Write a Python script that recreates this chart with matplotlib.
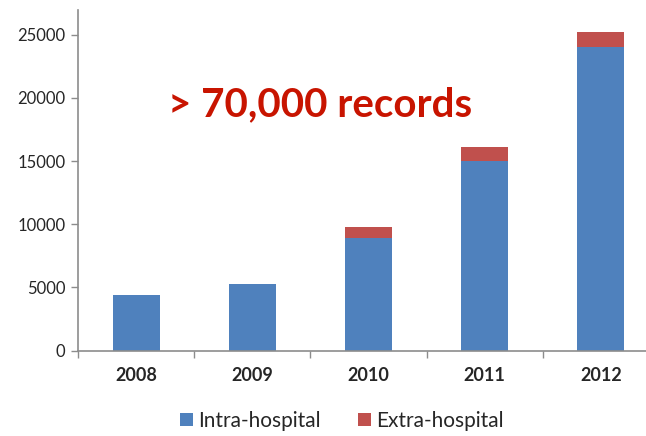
import matplotlib
matplotlib.use("Agg")
import matplotlib.pyplot as plt
import numpy as np

years = ["2008", "2009", "2010", "2011", "2012"]
intra = [4430, 5250, 8940, 15030, 24050]
extra = [0, 0, 870, 1060, 1160]

blue = "#4F81BD"
red = "#C0504D"
axis_grey = "#8C8C8C"

plt.rcParams['font.family'] = ['Lato', 'DejaVu Sans']

fig = plt.figure(figsize=(6.46, 4.36), dpi=100)
ax = fig.add_axes([78/646, 1 - 350.7/436, (659 - 78)/646, (350.7 - 10)/436])

x = np.arange(len(years))
w = 0.405
ax.bar(x, intra, width=w, color=blue, label="Intra-hospital", zorder=2)
ax.bar(x, extra, width=w, bottom=intra, color=red, label="Extra-hospital", zorder=2)

ax.set_xlim(-0.5, 4.5)
ax.set_ylim(0, 26950)
ax.set_yticks([0, 5000, 10000, 15000, 20000, 25000])
ax.set_yticklabels(["0", "5000", "10000", "15000", "20000", "25000"])
ax.set_xticks(x)
ax.set_xticklabels(years, fontweight='bold')
ax.set_xticks(np.arange(-0.5, 5.0, 1.0), minor=True)
ax.tick_params(axis='x', which='major', length=0, pad=12, labelsize=13, labelcolor="#262626")
ax.tick_params(axis='x', which='minor', length=5, width=1, color=axis_grey, direction='out')
ax.tick_params(axis='y', length=5, width=1, color=axis_grey, labelsize=12, labelcolor="#262626", pad=4)

for s in ['top', 'right']:
    ax.spines[s].set_visible(False)
for s in ['left', 'bottom']:
    ax.spines[s].set_color(axis_grey)
    ax.spines[s].set_linewidth(1.2)

fig.text(320/646, 1 - 105/436, "> 70,000 records", color="#C81400", fontsize=29,
         fontweight='bold', ha='center', va='center')

handles, labels = ax.get_legend_handles_labels()
fig.legend(handles, labels, loc='center', bbox_to_anchor=(342/646, 1 - 421/436),
           ncol=2, frameon=False, fontsize=15, handlelength=0.6, handleheight=0.6,
           handletextpad=0.25, columnspacing=1.8, labelcolor="#262626")

fig.savefig("out.png", dpi=100)
